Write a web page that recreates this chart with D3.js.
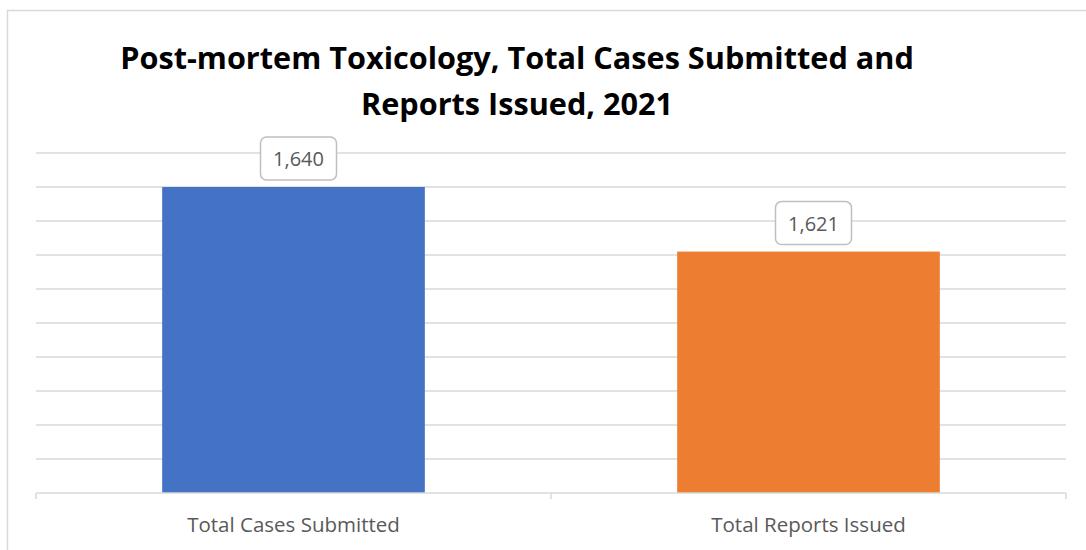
<!DOCTYPE html>
<html lang="en">
<head>
  <meta charset="UTF-8">
  <title>Post-mortem Toxicology</title>
  <script src="https://cdn.jsdelivr.net/npm/d3@7"></script>
  <style>
    body { margin: 0; background: #fff; }
    svg { display: block; }
  </style>
</head>
<body>
  <svg width="1086" height="550"></svg>
  <script>
    var categories = ['Total Cases Submitted', 'Total Reports Issued'];
    var values = [1640, 1621];
    var colors = ['#4472C4', '#ED7D31'];
    var titleLines = ['Post-mortem Toxicology, Total Cases Submitted and', 'Reports Issued, 2021'];
    var yDomain = [1550, 1650];
    var gridTicks = [1560, 1570, 1580, 1590, 1600, 1610, 1620, 1630, 1640, 1650];

    var svg = d3.select('svg');
    var fmt = d3.format(',');

    // outer chart frame (cut off on the right and bottom)
    svg.append('rect')
      .attr('x', 7.5).attr('y', 10.5)
      .attr('width', 1200).attr('height', 700)
      .attr('fill', '#fff')
      .attr('stroke', '#d9d9d9')
      .attr('stroke-width', 1.5);

    var x = d3.scaleBand().domain(categories).range([36, 1066]).paddingInner(0).paddingOuter(0);
    var y = d3.scaleLinear().domain(yDomain).range([493, 153]);

    // title, fitted to the reference width
    var title = svg.append('g');
    var t1 = title.append('text')
      .attr('x', 517).attr('y', 68.5)
      .attr('text-anchor', 'middle')
      .style('font-family', '"Open Sans", sans-serif')
      .style('font-weight', 'bold')
      .style('font-size', '30px')
      .attr('fill', '#000')
      .text(titleLines[0]);
    var w = t1.node().getComputedTextLength();
    var titleSize = 30 * 794 / w;
    t1.style('font-size', titleSize + 'px');
    title.append('text')
      .attr('x', 517).attr('y', 114.5)
      .attr('text-anchor', 'middle')
      .style('font-family', '"Open Sans", sans-serif')
      .style('font-weight', 'bold')
      .style('font-size', titleSize + 'px')
      .attr('fill', '#000')
      .text(titleLines[1]);

    // gridlines
    svg.append('g')
      .selectAll('line')
      .data(gridTicks)
      .enter().append('line')
      .attr('x1', 36).attr('x2', 1066)
      .attr('y1', function(d) { return y(d); })
      .attr('y2', function(d) { return y(d); })
      .attr('stroke', '#d9d9d9')
      .attr('stroke-width', 1.5);

    // bars
    svg.append('g')
      .selectAll('rect')
      .data(values)
      .enter().append('rect')
      .attr('x', function(d, i) { return x(categories[i]) + x.bandwidth() * 0.245; })
      .attr('width', x.bandwidth() * 0.51)
      .attr('y', function(d) { return y(d); })
      .attr('height', function(d) { return y(yDomain[0]) - y(d); })
      .attr('fill', function(d, i) { return colors[i]; });

    // x axis
    var xAxis = d3.axisBottom(x).tickSize(0).tickPadding(24);
    var axisG = svg.append('g')
      .attr('transform', 'translate(0,' + y(yDomain[0]) + ')')
      .call(xAxis);
    axisG.select('.domain').attr('stroke', '#d9d9d9').attr('stroke-width', 1.5)
      .attr('d', 'M36,0H1066');
    axisG.selectAll('.tick text')
      .style('font-family', '"Open Sans", sans-serif')
      .style('font-size', '20.5px')
      .attr('fill', '#595959')
      .attr('dy', '0.71em');
    // category boundary ticks
    axisG.append('g')
      .selectAll('line')
      .data([36, 551, 1066])
      .enter().append('line')
      .attr('x1', function(d) { return d; }).attr('x2', function(d) { return d; })
      .attr('y1', 0).attr('y2', 6)
      .attr('stroke', '#d9d9d9')
      .attr('stroke-width', 1.5);

    // data labels in rounded boxes
    var labels = svg.append('g')
      .selectAll('g')
      .data(values)
      .enter().append('g')
      .attr('transform', function(d, i) {
        return 'translate(' + (x(categories[i]) + x.bandwidth() / 2 + 5) + ',' + (y(d) - 7) + ')';
      });
    labels.append('rect')
      .attr('x', -38).attr('y', -43)
      .attr('width', 76).attr('height', 43)
      .attr('rx', 6)
      .attr('fill', '#fff')
      .attr('stroke', '#bfbfbf')
      .attr('stroke-width', 1.5);
    labels.append('text')
      .attr('x', 0).attr('y', -14)
      .attr('text-anchor', 'middle')
      .style('font-family', '"Open Sans", sans-serif')
      .style('font-size', '20px')
      .attr('fill', '#595959')
      .text(function(d) { return fmt(d); });
  </script>
</body>
</html>
